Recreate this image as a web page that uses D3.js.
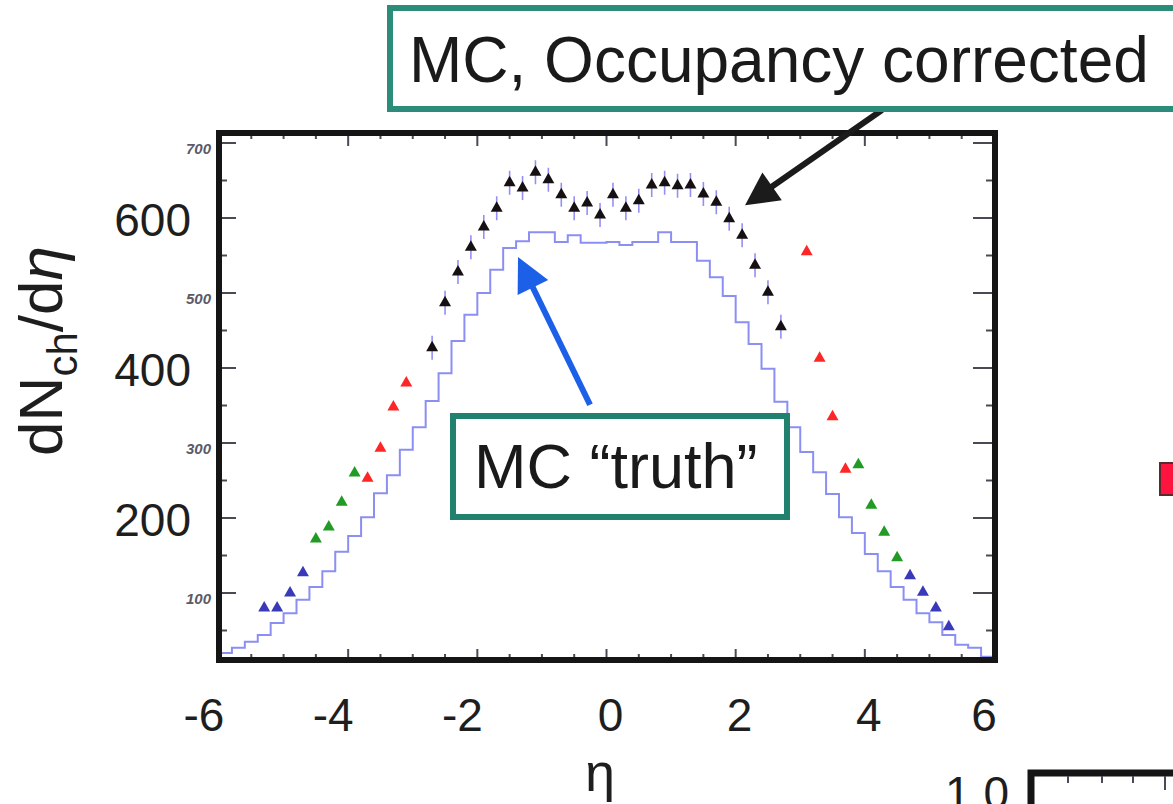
<!DOCTYPE html>
<html><head><meta charset="utf-8">
<script src="https://cdn.jsdelivr.net/npm/d3@7"></script>
<style>html,body{margin:0;padding:0;background:#fff;overflow:hidden;} svg{display:block;}</style>
</head><body>
<svg id="chart" width="1173" height="804"></svg>
<script>
// ---- data ----
// MC "truth" histogram (bin centres in eta, width 0.2)
const histEta = [-5.9,-5.7,-5.5,-5.3,-5.1,-4.9,-4.7,-4.5,-4.3,-4.1,
                 -3.9,-3.7,-3.5,-3.3,-3.1,-2.9,-2.7,-2.5,-2.3,-2.1,
                 -1.9,-1.7,-1.5,-1.3,-1.1,-0.9,-0.7,-0.5,-0.3,-0.1,
                  0.1, 0.3, 0.5, 0.7, 0.9, 1.1, 1.3, 1.5, 1.7, 1.9,
                  2.1, 2.3, 2.5, 2.7, 2.9, 3.1, 3.3, 3.5, 3.7, 3.9,
                  4.1, 4.3, 4.5, 4.7, 4.9, 5.1, 5.3, 5.5, 5.7, 5.9];
const histValues = [20,27,35,44,60,73,91,108,129,155,
                    176,201,233,257,291,321,356,393,436,471,
                    500,531,560,569,581,581,568,577,567,567,
                    568,564,568,568,581,568,568,543,521,496,
                    461,432,399,355,321,288,261,232,201,180,
                    152,129,108,91,73,61,44,31,27,15];
// MC occupancy corrected (black)
const blackEta = [-2.7,-2.5,-2.3,-2.1,-1.9,-1.7,-1.5,-1.3,-1.1,-0.9,-0.7,-0.5,-0.3,-0.1,
                   0.1, 0.3, 0.5, 0.7, 0.9, 1.1, 1.3, 1.5, 1.7, 1.9, 2.1, 2.3, 2.5, 2.7];
const blackValues = [427,487,528,561,588,613,647,640,661,651,631,613,620,604,
                     631,613,623,644,647,643,644,632,621,599,577,537,501,455];
const blackErr = 16;
// red / green / blue rings
const redEta = [-3.7,-3.5,-3.3,-3.1,3.1,3.3,3.5,3.7];
const redValues = [253,293,348,380,555,413,335,265];
const greenEta = [-4.5,-4.3,-4.1,-3.9,3.9,4.1,4.3,4.5];
const greenValues = [172,188,221,260,271,217,181,147];
const blueEta = [-5.3,-5.1,-4.9,-4.7,4.7,4.9,5.1,5.3];
const blueValues = [80,80,100,127,123,101,80,55];
// tick labels
const xTickLabels = [-6,-4,-2,0,2,4,6];
const yMainLabels = [200,400,600];
const yInnerLabels = [100,300,500,700];
const xMajorTicks = [-6,-4,-2,0,2,4,6];
const xMinorTicks = [-5.5,-5,-4.5,-3.5,-3,-2.5,-1.5,-1,-0.5,0.5,1,1.5,2.5,3,3.5,4.5,5,5.5];
const yMajorTicks = [100,200,300,400,500,600,700];
const yMinorTicks = [50,150,250,350,450,550,650];

// ---- drawing ----
const FONT = "'Liberation Sans', Arial, Helvetica, sans-serif";
const svg = d3.select("#chart");
const frame = {left:219, right:995, top:133, bottom:660};
const x = d3.scaleLinear().domain([-6, 6]).range([219, 994]);
const y = d3.scaleLinear().domain([0, 700]).range([668, 143]);

// inner ticks
const tk = svg.append("g").attr("stroke", "#4a4a55").attr("stroke-width", 2);
xMajorTicks.forEach(v => {
  tk.append("line").attr("x1", x(v)).attr("x2", x(v)).attr("y1", frame.bottom).attr("y2", frame.bottom - 11);
  tk.append("line").attr("x1", x(v)).attr("x2", x(v)).attr("y1", frame.top).attr("y2", frame.top + 13);
});
xMinorTicks.forEach(v => {
  tk.append("line").attr("x1", x(v)).attr("x2", x(v)).attr("y1", frame.bottom).attr("y2", frame.bottom - 6);
  tk.append("line").attr("x1", x(v)).attr("x2", x(v)).attr("y1", frame.top).attr("y2", frame.top + 6);
});
yMajorTicks.forEach(v => {
  tk.append("line").attr("x1", frame.left).attr("x2", frame.left + 17).attr("y1", y(v)).attr("y2", y(v));
  tk.append("line").attr("x1", frame.right).attr("x2", frame.right - 22).attr("y1", y(v)).attr("y2", y(v));
});
yMinorTicks.forEach(v => {
  tk.append("line").attr("x1", frame.left).attr("x2", frame.left + 8).attr("y1", y(v)).attr("y2", y(v));
  tk.append("line").attr("x1", frame.right).attr("x2", frame.right - 9).attr("y1", y(v)).attr("y2", y(v));
});

// histogram (step line)
const histPts = histEta.map((e, i) => [Math.max(-6, e - 0.1), histValues[i]]);
histPts.push([6, histValues[histValues.length - 1]]);
svg.append("path")
  .attr("d", d3.line().x(d => x(d[0])).y(d => y(d[1])).curve(d3.curveStepAfter)(histPts))
  .attr("fill", "none").attr("stroke", "#8c8ff2").attr("stroke-width", 2);

// error bars on black points
svg.append("g").selectAll("line").data(blackEta).join("line")
  .attr("x1", d => x(d)).attr("x2", d => x(d))
  .attr("y1", (d, i) => y(blackValues[i] + blackErr))
  .attr("y2", (d, i) => y(blackValues[i] - blackErr))
  .attr("stroke", "#9490f2").attr("stroke-width", 1.6);

const tri = d3.symbol().type(d3.symbolTriangle).size(62);
function markers(etas, vals, fill) {
  svg.append("g").selectAll("path").data(etas).join("path")
    .attr("d", tri)
    .attr("transform", (d, i) => `translate(${x(d)},${y(vals[i])})`)
    .attr("fill", fill);
}
markers(blackEta, blackValues, "#161012");
markers(redEta, redValues, "#ff2626");
markers(greenEta, greenValues, "#229a26");
markers(blueEta, blueValues, "#3a3ab8");

// frame
svg.append("rect")
  .attr("x", frame.left).attr("y", frame.top)
  .attr("width", frame.right - frame.left).attr("height", frame.bottom - frame.top)
  .attr("fill", "none").attr("stroke", "#151515").attr("stroke-width", 6);

// small original tick labels
svg.append("g").selectAll("text").data(yInnerLabels).join("text")
  .attr("x", 211).attr("y", d => y(d) + 5)
  .attr("text-anchor", "end").attr("dominant-baseline", "central")
  .attr("font-family", FONT).attr("font-size", 15).attr("font-weight", "bold").attr("font-style", "italic")
  .attr("fill", "#5a5a68").text(d => d);

// big y labels
svg.append("g").selectAll("text").data(yMainLabels).join("text")
  .attr("x", 191).attr("y", d => y(d) + 2)
  .attr("text-anchor", "end").attr("dominant-baseline", "central")
  .attr("font-family", FONT).attr("font-size", 46).attr("fill", "#1e1e1e").text(d => d);

// big x labels
svg.append("g").selectAll("text").data(xTickLabels).join("text")
  .attr("x", d => x(d) + (d < 0 ? -15 : (d === 6 ? -10 : 4))).attr("y", 731)
  .attr("text-anchor", "middle")
  .attr("font-family", FONT).attr("font-size", 46).attr("fill", "#1e1e1e")
  .text(d => d < 0 ? "-" + Math.abs(d) : String(d));

// axis titles
svg.append("text").attr("x", 600).attr("y", 791).attr("text-anchor", "middle")
  .attr("font-family", FONT).attr("font-size", 54).attr("fill", "#1e1e1e").text("η");

const yt = svg.append("text").attr("transform", "translate(62,351) rotate(-90)")
  .attr("text-anchor", "middle").attr("font-family", FONT).attr("font-size", 62).attr("fill", "#1e1e1e");
yt.append("tspan").text("dN");
yt.append("tspan").attr("font-size", 42).attr("dy", 15).text("ch");
yt.append("tspan").attr("dy", -15).text("/d");
yt.append("tspan").attr("font-style", "italic").text("η");

// arrows
function arrow(tail, tip, headLen, headHalf, width, color) {
  const t = [x(tail[0]), y(tail[1])], p = [x(tip[0]), y(tip[1])];
  const dx = p[0] - t[0], dy = p[1] - t[1], L = Math.hypot(dx, dy);
  const ux = dx / L, uy = dy / L, nx = -uy, ny = ux;
  const b = [p[0] - ux * headLen, p[1] - uy * headLen];
  svg.append("line").attr("x1", t[0]).attr("y1", t[1])
    .attr("x2", b[0] + ux * 4).attr("y2", b[1] + uy * 4)
    .attr("stroke", color).attr("stroke-width", width);
  svg.append("path")
    .attr("d", `M${p[0]},${p[1]}L${b[0] + nx * headHalf},${b[1] + ny * headHalf}L${b[0] - nx * headHalf},${b[1] - ny * headHalf}Z`)
    .attr("fill", color);
}
arrow([4.266, 744], [2.145, 617], 33, 17, 6, "#1b1b1b");
arrow([-0.255, 351], [-1.37, 548], 34, 17, 6, "#1c60e8");

// annotation boxes
svg.append("rect").attr("x", 390).attr("y", 8).attr("width", 820).attr("height", 101)
  .attr("fill", "#fff").attr("stroke", "#2a8c79").attr("stroke-width", 6);
svg.append("text").attr("x", 409).attr("y", 82)
  .attr("font-family", FONT).attr("font-size", 64).attr("fill", "#1a1a1a").text("MC, Occupancy corrected");

svg.append("rect").attr("x", 453).attr("y", 416).attr("width", 334).attr("height", 101)
  .attr("fill", "#fff").attr("stroke", "#22806f").attr("stroke-width", 6);
svg.append("text").attr("x", 474).attr("y", 488)
  .attr("font-family", FONT).attr("font-size", 63).attr("fill", "#1a1a1a").text("MC \u201ctruth\u201d");

// fragments of neighbouring content
svg.append("rect").attr("x", 1160).attr("y", 463).attr("width", 16).attr("height", 32)
  .attr("fill", "#ff1440").attr("stroke", "#5a2a30").attr("stroke-width", 2);
svg.append("path").attr("d", "M1031,810V773H1180").attr("fill", "none")
  .attr("stroke", "#151515").attr("stroke-width", 7);
[1068, 1102, 1133].forEach(px => svg.append("line").attr("x1", px).attr("x2", px).attr("y1", 776).attr("y2", 783)
  .attr("stroke", "#4a4a55").attr("stroke-width", 2));
svg.append("line").attr("x1", 1165).attr("x2", 1165).attr("y1", 776).attr("y2", 790)
  .attr("stroke", "#4a4a55").attr("stroke-width", 2);
svg.append("text").attr("x", 1009).attr("y", 809).attr("text-anchor", "end")
  .attr("font-family", FONT).attr("font-size", 46).attr("fill", "#1e1e1e").text("1.0");
</script>
</body></html>
